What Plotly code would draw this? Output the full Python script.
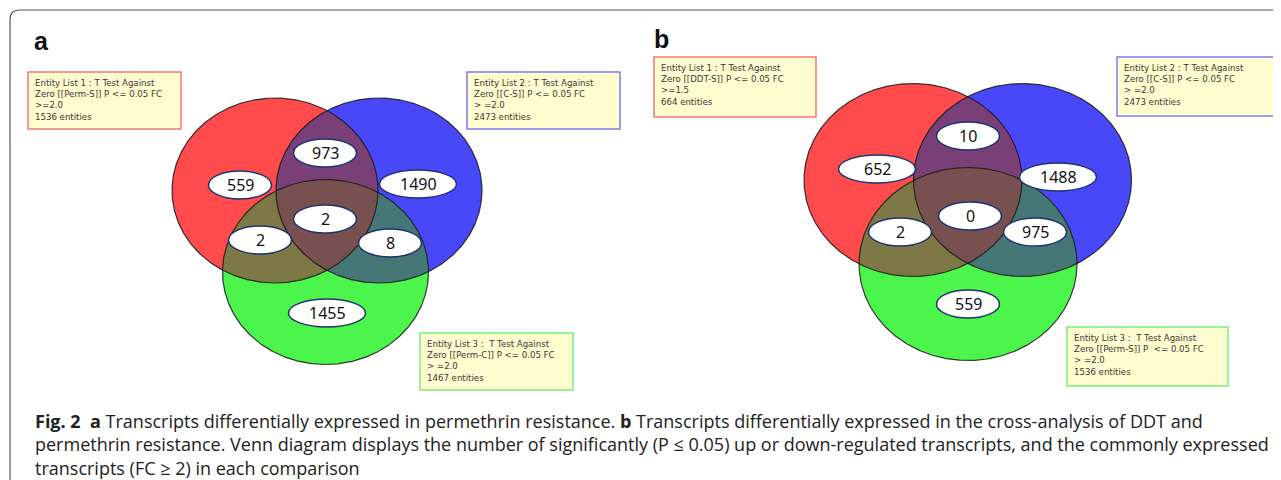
import numpy as np
import plotly.graph_objects as go

# ---------------- data ----------------
# region order: 1 only, 2 only, 3 only, 1&2, 1&3, 2&3, 1&2&3
counts_a = [559, 1490, 1455, 973, 2, 8, 2]
counts_b = [652, 1488, 559, 10, 2, 975, 0]

lists_a = [
    ["Entity List 1 : T Test Against", "Zero [[Perm-S]] P &lt;= 0.05 FC", ">=2.0", "1536 entities"],
    ["Entity List 2 : T Test Against", "Zero [[C-S]] P &lt;= 0.05 FC", "> =2.0", "2473 entities"],
    ["Entity List 3 :  T Test Against", "Zero [[Perm-C]] P &lt;= 0.05 FC", "> =2.0", "1467 entities"],
]
lists_b = [
    ["Entity List 1 : T Test Against", "Zero [[DDT-S]] P &lt;= 0.05 FC", ">=1.5", "664 entities"],
    ["Entity List 2 : T Test Against", "Zero [[C-S]] P &lt;= 0.05 FC", "> =2.0", "2473 entities"],
    ["Entity List 3 :  T Test Against", "Zero [[Perm-S]] P  &lt;= 0.05 FC", "> =2.0", "1536 entities"],
]

caption_lines = [
    "<b>Fig. 2</b>  <b>a</b> Transcripts differentially expressed in permethrin resistance. <b>b</b> Transcripts differentially expressed in the cross-analysis of DDT and",
    "permethrin resistance. Venn diagram displays the number of significantly (P \u2264 0.05) up or down-regulated transcripts, and the commonly expressed",
    "transcripts (FC \u2265 2) in each comparison",
]

# ---------------- layout / geometry ----------------
W, H = 1281, 480
OFF = 8  # default page margin of the html body
panels = [
    dict(label="a", label_xy=(41, 41), counts=counts_a, lists=lists_a,
         circles=[(275, 190.5), (379, 190.5), (325.5, 272)], rx=103, ry=92.5,
         num_pos=[(240, 185), (418, 184), (327, 313), (325, 153), (260, 240), (390, 243), (325, 219)],
         num_w=[63, 77, 77, 63, 63, 63, 63],
         boxes=[(28, 72, 181, 129), (467, 72, 620, 129), (420, 333, 573, 390)]),
    dict(label="b", label_xy=(661, 39), counts=counts_b, lists=lists_b,
         circles=[(913, 180), (1022.5, 180), (968, 264)], rx=109, ry=96.5,
         num_pos=[(877, 169), (1058, 177), (968, 304), (968, 136), (900, 232), (1035, 232), (970, 216)],
         num_w=[77, 77, 63, 63, 63, 63, 63],
         boxes=[(654, 57, 816, 117), (1117, 57, 1277, 116), (1067, 327, 1228, 386)]),
]

base_cols = ["#FF4B4B", "#4848F8", "#4CF54C"]
pair_cols = {(0, 1): "#7B3F78", (0, 2): "#7D7845", (1, 2): "#457777"}
triple_col = "#785050"
edge_cols = ["#F07A7A", "#7C7CF0", "#7AEE7A"]


def ell_pts(cx, cy, rx, ry, n=720):
    t = np.linspace(0, 2 * np.pi, n, endpoint=False)
    return np.c_[cx + rx * np.cos(t), cy + ry * np.sin(t)]


def inside(p, e, rx, ry):
    return ((p[:, 0] - e[0]) / rx) ** 2 + ((p[:, 1] - e[1]) / ry) ** 2 <= 1.0000001


def intersection(idx, circles, rx, ry):
    pts = []
    for i in idx:
        p = ell_pts(circles[i][0], circles[i][1], rx, ry)
        m = np.ones(len(p), bool)
        for j in idx:
            if j != i:
                m &= inside(p, circles[j], rx, ry)
        pts.append(p[m])
    pts = np.vstack(pts)
    c = pts.mean(axis=0)
    order = np.argsort(np.arctan2(pts[:, 1] - c[1], pts[:, 0] - c[0]))
    pts = pts[order]
    return np.vstack([pts, pts[:1]])


fig = go.Figure()
shapes = []
annotations = []

for P in panels:
    circ, rx, ry = P["circles"], P["rx"], P["ry"]
    for i, (cx, cy) in enumerate(circ):
        p = ell_pts(cx, cy, rx, ry)
        p = np.vstack([p, p[:1]])
        fig.add_trace(go.Scatter(x=p[:, 0], y=p[:, 1], mode="lines", fill="toself",
                                 fillcolor=base_cols[i], line=dict(width=0),
                                 hoverinfo="skip", showlegend=False))
    for (i, j), col in pair_cols.items():
        p = intersection([i, j], circ, rx, ry)
        fig.add_trace(go.Scatter(x=p[:, 0], y=p[:, 1], mode="lines", fill="toself",
                                 fillcolor=col, line=dict(width=0),
                                 hoverinfo="skip", showlegend=False))
    p = intersection([0, 1, 2], circ, rx, ry)
    fig.add_trace(go.Scatter(x=p[:, 0], y=p[:, 1], mode="lines", fill="toself",
                             fillcolor=triple_col, line=dict(width=0),
                             hoverinfo="skip", showlegend=False))
    for (cx, cy) in circ:
        p = ell_pts(cx, cy, rx, ry)
        p = np.vstack([p, p[:1]])
        fig.add_trace(go.Scatter(x=p[:, 0], y=p[:, 1], mode="lines",
                                 line=dict(width=1.2, color="rgba(25,25,25,0.85)"),
                                 hoverinfo="skip", showlegend=False))
    for (x, y), w, n in zip(P["num_pos"], P["num_w"], P["counts"]):
        shapes.append(dict(type="circle", xref="x", yref="y", x0=x - w / 2, x1=x + w / 2,
                           y0=y - 14, y1=y + 14, fillcolor="white",
                           line=dict(color="#1E3470", width=1.5), layer="above"))
        annotations.append(dict(x=x, y=y, xref="x", yref="y", text=str(n), showarrow=False,
                                font=dict(family="Noto Sans", size=16, color="#111111")))
    for k, ((x0, y0, x1, y1), lines) in enumerate(zip(P["boxes"], P["lists"])):
        shapes.append(dict(type="rect", xref="x", yref="y", x0=x0, x1=x1, y0=y0, y1=y1,
                           fillcolor="#FFFCCF", line=dict(color=edge_cols[k], width=1.5),
                           layer="above"))
        annotations.append(dict(x=x0 + 5, y=y0 + 4, xref="x", yref="y",
                                text="<br>".join(lines), showarrow=False,
                                xanchor="left", yanchor="top", align="left",
                                font=dict(family="DejaVu Sans", size=8.6, color="#3A3A3A")))
    lx, ly = P["label_xy"]
    annotations.append(dict(x=lx, y=ly, xref="x", yref="y", text="<b>" + P["label"] + "</b>",
                            showarrow=False, font=dict(family="Liberation Sans", size=25, color="#111")))

# outer frame
shapes.append(dict(type="path", xref="x", yref="y",
                   path="M 10 482 L 10 20 Q 10 10 20 10 L 1283 10",
                   line=dict(color="#555555", width=1.2), layer="above"))

# caption (single text block)
annotations.append(dict(x=33, y=444, xref="x", yref="y", text="<br>".join(caption_lines),
                        showarrow=False, xanchor="left", yanchor="middle", align="left",
                        font=dict(family="Open Sans", size=18, color="#222222")))

fig.update_layout(
    width=W - OFF, height=H - OFF, margin=dict(l=0, r=0, t=0, b=0),
    paper_bgcolor="white", plot_bgcolor="white",
    xaxis=dict(range=[OFF, W], visible=False, fixedrange=True),
    yaxis=dict(range=[H, OFF], visible=False, fixedrange=True),
    shapes=shapes, annotations=annotations, showlegend=False,
)

fig.write_html("out.html", config={"displayModeBar": False})
